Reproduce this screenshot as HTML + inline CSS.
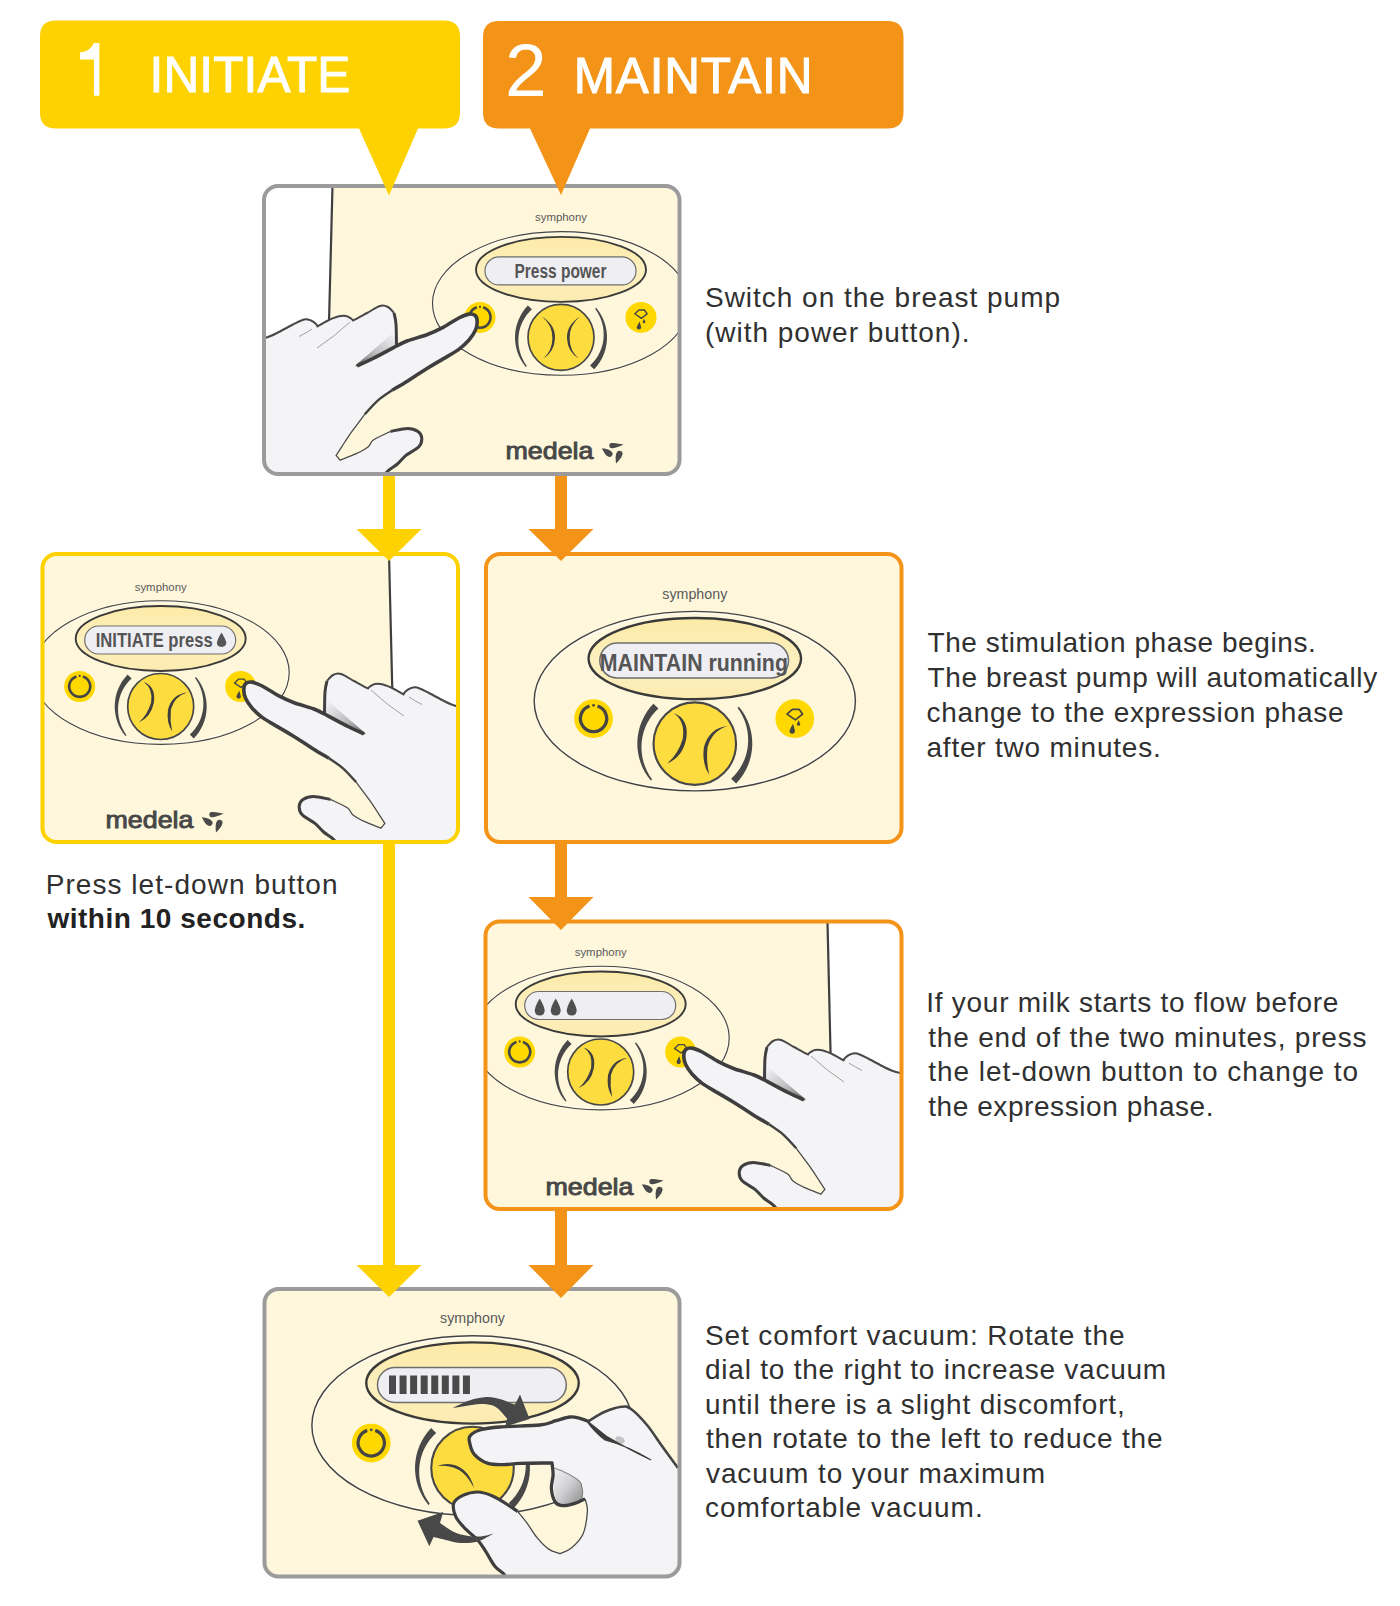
<!DOCTYPE html><html><head><meta charset="utf-8"><style>html,body{margin:0;padding:0;background:#fff;}svg{display:block;font-family:"Liberation Sans",sans-serif;}</style></head><body>
<svg width="1400" height="1606" viewBox="0 0 1400 1606">
<defs>
<linearGradient id="dispg" x1="0" y1="0" x2="0" y2="1"><stop offset="0" stop-color="#FCEAA6"/><stop offset="0.55" stop-color="#FDF0C0"/><stop offset="1" stop-color="#FCEBB0"/></linearGradient>
<linearGradient id="shadeA" x1="0" y1="1" x2="0.8" y2="0"><stop offset="0" stop-color="#5e5e5e"/><stop offset="0.45" stop-color="#bdbdc0"/><stop offset="1" stop-color="#F4F4F6"/></linearGradient>
<linearGradient id="shadeB" x1="1" y1="1" x2="0" y2="0"><stop offset="0" stop-color="#8a8a8a"/><stop offset="0.5" stop-color="#d0d0d3"/><stop offset="1" stop-color="#F4F4F6"/></linearGradient>
<clipPath id="cp0"><rect x="265" y="187" width="413.5" height="286" rx="13"/></clipPath>
<clipPath id="cp1"><rect x="43.5" y="555" width="413.5" height="286" rx="13"/></clipPath>
<clipPath id="cp2"><rect x="487" y="555" width="413.5" height="286" rx="13"/></clipPath>
<clipPath id="cp3"><rect x="486.5" y="922.5" width="414" height="285.5" rx="13"/></clipPath>
<clipPath id="cp4"><rect x="265.5" y="1290" width="413" height="285.5" rx="13"/></clipPath>
</defs>
<rect x="264" y="186" width="415.5" height="288" rx="14" ry="14" fill="#FEF7DC"/>
<g clip-path="url(#cp0)">
<path d="M260,180 L332.5,180 L327,400 L260,400Z" fill="#fff"/>
<path d="M332.5,186 L327,400" stroke="#3f3f3f" stroke-width="2.2" fill="none"/>
<g transform="translate(561,337.4) scale(1.0)">
<text x="0" y="-116" font-size="11" fill="#5a5a5a" text-anchor="middle" textLength="52" lengthAdjust="spacingAndGlyphs">symphony</text>
<ellipse cx="0" cy="-34" rx="127.2" ry="70.5" fill="none" stroke="#ffffff" stroke-width="0.9" opacity="0.7"/>
<ellipse cx="0" cy="-34" rx="128.5" ry="71.8" fill="none" stroke="#444" stroke-width="1.15"/>
<ellipse cx="0" cy="-68" rx="85" ry="32.5" fill="url(#dispg)" stroke="#3a3a3a" stroke-width="1.9"/>
<rect x="-76" y="-80.5" width="151" height="28" rx="14" fill="#EFEFF3" stroke="#6e6e6e" stroke-width="1.2"/>
<text x="-46.5" y="-59.4" font-size="20" font-weight="bold" fill="#555" textLength="92" lengthAdjust="spacingAndGlyphs">Press power</text>
<circle cx="-81" cy="-20" r="15.5" fill="#FFD800"/>
<path d="M-84.2,-30.1 A10.5,10.5 0 1 0 -77.8,-30.1" fill="none" stroke="#454545" stroke-width="2.6"/>
<circle cx="-81" cy="-30.6" r="1.1" fill="#454545"/>
<circle cx="80" cy="-20" r="15.5" fill="#FFD800"/>
<path d="M78,-27.4 L83.4,-27.4 L86.2,-23.6 L80.4,-19 L73.8,-23.6 Z" fill="none" stroke="#454545" stroke-width="1.4" stroke-linejoin="round"/>
<path d="M78.6,-15.8 Q76.6,-12.6 75.8,-10.2 Q75.8,-7.8 77.9,-7.8 Q80.1,-7.8 80.1,-10.2 Q79.6,-12.6 78.6,-15.8Z" fill="#454545"/>
<path d="M83.1,-18.6 Q82,-16.6 81.7,-15.4 Q81.7,-14.2 83,-14.2 Q84.3,-14.2 84.3,-15.4 Q84,-16.6 83.1,-18.6Z" fill="#454545"/>
<path d="M-33.09,-31.95 L-35.87,-28.79 L-38.36,-25.39 L-40.52,-21.77 L-42.34,-17.97 L-43.81,-14.02 L-44.91,-9.96 L-45.63,-5.81 L-45.97,-1.61 L-45.93,2.61 L-45.49,6.80 L-44.68,10.93 L-43.49,14.98 L-41.94,18.89 L-40.04,22.65 L-37.80,26.22 L-35.24,29.57 L-34.17,28.67 L-36.43,25.27 L-38.36,21.70 L-39.95,17.99 L-41.18,14.18 L-42.05,10.29 L-42.55,6.36 L-42.69,2.42 L-42.47,-1.48 L-41.90,-5.33 L-40.98,-9.09 L-39.73,-12.72 L-38.15,-16.20 L-36.28,-19.49 L-34.13,-22.59 L-31.71,-25.45 L-29.06,-28.06Z" fill="#484848"/>
<path d="M33.09,31.95 L35.87,28.79 L38.36,25.39 L40.52,21.77 L42.34,17.97 L43.81,14.02 L44.91,9.96 L45.63,5.81 L45.97,1.61 L45.93,-2.61 L45.49,-6.80 L44.68,-10.93 L43.49,-14.98 L41.94,-18.89 L40.04,-22.65 L37.80,-26.22 L35.24,-29.57 L34.17,-28.67 L36.43,-25.27 L38.36,-21.70 L39.95,-17.99 L41.18,-14.18 L42.05,-10.29 L42.55,-6.36 L42.69,-2.42 L42.47,1.48 L41.90,5.33 L40.98,9.09 L39.73,12.72 L38.15,16.20 L36.28,19.49 L34.13,22.59 L31.71,25.45 L29.06,28.06Z" fill="#484848"/>
<circle cx="0" cy="0" r="33" fill="#FCDC3E" stroke="#474747" stroke-width="1.7"/>
<path d="M-19,-21 Q-5.2,-12 -6,1 Q-6.6,14 -17.5,21 Q-8.8,13 -8.6,1 Q-8.2,-12 -19,-21Z" fill="#3f3f3f"/>
<path d="M19,-21 Q5.2,-12 6,1 Q6.6,14 17.5,21 Q8.8,13 8.6,1 Q8.2,-12 19,-21Z" fill="#3f3f3f"/>
</g>
<text x="505.5" y="458.5" font-size="24" fill="#474747" stroke="#474747" stroke-width="0.9" textLength="88" lengthAdjust="spacingAndGlyphs">medela</text><g transform="translate(602.5,443.5) scale(1.0)" fill="#4a4a4a"><path transform="translate(9.40,2.20) rotate(-5.4)" d="M11.75,0 Q2.34,-3.25 0,-2.60 A2.6,2.6 0 0 0 0,2.60 Q2.34,3.25 11.75,0Z"/><path transform="translate(7.00,10.40) rotate(-143.6)" d="M9.44,0 Q2.70,-3.75 0,-3.00 A3,3 0 0 0 0,3.00 Q2.70,3.75 9.44,0Z"/><path transform="translate(17.00,10.30) rotate(109.7)" d="M10.41,0 Q2.70,-3.75 0,-3.00 A3,3 0 0 0 0,3.00 Q2.70,3.75 10.41,0Z"/></g>
<use href="#handA"/>
</g>
<rect x="264" y="186" width="415.5" height="288" rx="14" ry="14" fill="none" stroke="#9B9B9B" stroke-width="4"/>
<rect x="42.5" y="554" width="415.5" height="288" rx="14" ry="14" fill="#FEF7DC"/>
<g clip-path="url(#cp1)">
<path d="M389,540 L470,540 L470,760 L394,760Z" fill="#fff"/>
<path d="M389,554 L394,760" stroke="#3f3f3f" stroke-width="2.2" fill="none"/>
<g transform="translate(160.7,706.5) scale(1.0)">
<text x="0" y="-116" font-size="11" fill="#5a5a5a" text-anchor="middle" textLength="52" lengthAdjust="spacingAndGlyphs">symphony</text>
<ellipse cx="0" cy="-34" rx="127.2" ry="70.5" fill="none" stroke="#ffffff" stroke-width="0.9" opacity="0.7"/>
<ellipse cx="0" cy="-34" rx="128.5" ry="71.8" fill="none" stroke="#444" stroke-width="1.15"/>
<ellipse cx="0" cy="-68" rx="85" ry="32.5" fill="url(#dispg)" stroke="#3a3a3a" stroke-width="1.9"/>
<rect x="-76" y="-80.5" width="151" height="28" rx="14" fill="#EFEFF3" stroke="#6e6e6e" stroke-width="1.2"/>
<text x="-65" y="-59.5" font-size="20" font-weight="bold" fill="#555" textLength="117" lengthAdjust="spacingAndGlyphs">INITIATE press</text><path d="M60.8,-74 Q57,-68 56.2,-64 Q56,-60 60.8,-59.5 Q65.6,-60 65.6,-64 Q64.6,-68 60.8,-74Z" fill="#555"/>
<circle cx="-81" cy="-20" r="15.5" fill="#FFD800"/>
<path d="M-84.2,-30.1 A10.5,10.5 0 1 0 -77.8,-30.1" fill="none" stroke="#454545" stroke-width="2.6"/>
<circle cx="-81" cy="-30.6" r="1.1" fill="#454545"/>
<circle cx="80" cy="-20" r="15.5" fill="#FFD800"/>
<path d="M78,-27.4 L83.4,-27.4 L86.2,-23.6 L80.4,-19 L73.8,-23.6 Z" fill="none" stroke="#454545" stroke-width="1.4" stroke-linejoin="round"/>
<path d="M78.6,-15.8 Q76.6,-12.6 75.8,-10.2 Q75.8,-7.8 77.9,-7.8 Q80.1,-7.8 80.1,-10.2 Q79.6,-12.6 78.6,-15.8Z" fill="#454545"/>
<path d="M83.1,-18.6 Q82,-16.6 81.7,-15.4 Q81.7,-14.2 83,-14.2 Q84.3,-14.2 84.3,-15.4 Q84,-16.6 83.1,-18.6Z" fill="#454545"/>
<path d="M-33.09,-31.95 L-35.87,-28.79 L-38.36,-25.39 L-40.52,-21.77 L-42.34,-17.97 L-43.81,-14.02 L-44.91,-9.96 L-45.63,-5.81 L-45.97,-1.61 L-45.93,2.61 L-45.49,6.80 L-44.68,10.93 L-43.49,14.98 L-41.94,18.89 L-40.04,22.65 L-37.80,26.22 L-35.24,29.57 L-34.17,28.67 L-36.43,25.27 L-38.36,21.70 L-39.95,17.99 L-41.18,14.18 L-42.05,10.29 L-42.55,6.36 L-42.69,2.42 L-42.47,-1.48 L-41.90,-5.33 L-40.98,-9.09 L-39.73,-12.72 L-38.15,-16.20 L-36.28,-19.49 L-34.13,-22.59 L-31.71,-25.45 L-29.06,-28.06Z" fill="#484848"/>
<path d="M33.09,31.95 L35.87,28.79 L38.36,25.39 L40.52,21.77 L42.34,17.97 L43.81,14.02 L44.91,9.96 L45.63,5.81 L45.97,1.61 L45.93,-2.61 L45.49,-6.80 L44.68,-10.93 L43.49,-14.98 L41.94,-18.89 L40.04,-22.65 L37.80,-26.22 L35.24,-29.57 L34.17,-28.67 L36.43,-25.27 L38.36,-21.70 L39.95,-17.99 L41.18,-14.18 L42.05,-10.29 L42.55,-6.36 L42.69,-2.42 L42.47,1.48 L41.90,5.33 L40.98,9.09 L39.73,12.72 L38.15,16.20 L36.28,19.49 L34.13,22.59 L31.71,25.45 L29.06,28.06Z" fill="#484848"/>
<circle cx="0" cy="0" r="33" fill="#FCDC3E" stroke="#474747" stroke-width="1.7"/>
<path d="M-17,-24.5 Q-4.5,-20 -6.8,-4 Q-9.5,10.5 -22,16 Q-13,8 -9.6,-4 Q-7.5,-18 -17,-24.5Z" fill="#3f3f3f"/>
<path d="M26.5,-14 Q11.5,-12.5 7.3,3 Q5.5,16 11.5,25 Q9,14 10.2,3 Q14,-10.5 26.5,-14Z" fill="#3f3f3f"/>
</g>
<text x="105.5" y="827.5" font-size="24" fill="#474747" stroke="#474747" stroke-width="0.9" textLength="88" lengthAdjust="spacingAndGlyphs">medela</text><g transform="translate(202.5,812.5) scale(1.0)" fill="#4a4a4a"><path transform="translate(9.40,2.20) rotate(-5.4)" d="M11.75,0 Q2.34,-3.25 0,-2.60 A2.6,2.6 0 0 0 0,2.60 Q2.34,3.25 11.75,0Z"/><path transform="translate(7.00,10.40) rotate(-143.6)" d="M9.44,0 Q2.70,-3.75 0,-3.00 A3,3 0 0 0 0,3.00 Q2.70,3.75 9.44,0Z"/><path transform="translate(17.00,10.30) rotate(109.7)" d="M10.41,0 Q2.70,-3.75 0,-3.00 A3,3 0 0 0 0,3.00 Q2.70,3.75 10.41,0Z"/></g>
<use href="#handA" transform="matrix(-1,0,0,1,721,368)"/>
</g>
<rect x="42.5" y="554" width="415.5" height="288" rx="14" ry="14" fill="none" stroke="#FDD200" stroke-width="4"/>
<rect x="486" y="554" width="415.5" height="288" rx="14" ry="14" fill="#FEF7DC"/>
<g clip-path="url(#cp2)">
<g transform="translate(694.8,743.6) scale(1.25)">
<text x="0" y="-116" font-size="11" fill="#5a5a5a" text-anchor="middle" textLength="52" lengthAdjust="spacingAndGlyphs">symphony</text>
<ellipse cx="0" cy="-34" rx="127.2" ry="70.5" fill="none" stroke="#ffffff" stroke-width="0.9" opacity="0.7"/>
<ellipse cx="0" cy="-34" rx="128.5" ry="71.8" fill="none" stroke="#444" stroke-width="1.15"/>
<ellipse cx="0" cy="-68" rx="85" ry="32.5" fill="url(#dispg)" stroke="#3a3a3a" stroke-width="1.9"/>
<rect x="-76" y="-80.5" width="151" height="28" rx="14" fill="#EFEFF3" stroke="#6e6e6e" stroke-width="1.2"/>
<text x="-76" y="-58.2" font-size="19.5" font-weight="bold" fill="#555" textLength="150.5" lengthAdjust="spacingAndGlyphs">MAINTAIN running</text>
<circle cx="-81" cy="-20" r="15.5" fill="#FFD800"/>
<path d="M-84.2,-30.1 A10.5,10.5 0 1 0 -77.8,-30.1" fill="none" stroke="#454545" stroke-width="2.6"/>
<circle cx="-81" cy="-30.6" r="1.1" fill="#454545"/>
<circle cx="80" cy="-20" r="15.5" fill="#FFD800"/>
<path d="M78,-27.4 L83.4,-27.4 L86.2,-23.6 L80.4,-19 L73.8,-23.6 Z" fill="none" stroke="#454545" stroke-width="1.4" stroke-linejoin="round"/>
<path d="M78.6,-15.8 Q76.6,-12.6 75.8,-10.2 Q75.8,-7.8 77.9,-7.8 Q80.1,-7.8 80.1,-10.2 Q79.6,-12.6 78.6,-15.8Z" fill="#454545"/>
<path d="M83.1,-18.6 Q82,-16.6 81.7,-15.4 Q81.7,-14.2 83,-14.2 Q84.3,-14.2 84.3,-15.4 Q84,-16.6 83.1,-18.6Z" fill="#454545"/>
<path d="M-33.09,-31.95 L-35.87,-28.79 L-38.36,-25.39 L-40.52,-21.77 L-42.34,-17.97 L-43.81,-14.02 L-44.91,-9.96 L-45.63,-5.81 L-45.97,-1.61 L-45.93,2.61 L-45.49,6.80 L-44.68,10.93 L-43.49,14.98 L-41.94,18.89 L-40.04,22.65 L-37.80,26.22 L-35.24,29.57 L-34.17,28.67 L-36.43,25.27 L-38.36,21.70 L-39.95,17.99 L-41.18,14.18 L-42.05,10.29 L-42.55,6.36 L-42.69,2.42 L-42.47,-1.48 L-41.90,-5.33 L-40.98,-9.09 L-39.73,-12.72 L-38.15,-16.20 L-36.28,-19.49 L-34.13,-22.59 L-31.71,-25.45 L-29.06,-28.06Z" fill="#484848"/>
<path d="M33.09,31.95 L35.87,28.79 L38.36,25.39 L40.52,21.77 L42.34,17.97 L43.81,14.02 L44.91,9.96 L45.63,5.81 L45.97,1.61 L45.93,-2.61 L45.49,-6.80 L44.68,-10.93 L43.49,-14.98 L41.94,-18.89 L40.04,-22.65 L37.80,-26.22 L35.24,-29.57 L34.17,-28.67 L36.43,-25.27 L38.36,-21.70 L39.95,-17.99 L41.18,-14.18 L42.05,-10.29 L42.55,-6.36 L42.69,-2.42 L42.47,1.48 L41.90,5.33 L40.98,9.09 L39.73,12.72 L38.15,16.20 L36.28,19.49 L34.13,22.59 L31.71,25.45 L29.06,28.06Z" fill="#484848"/>
<circle cx="0" cy="0" r="33" fill="#FCDC3E" stroke="#474747" stroke-width="1.7"/>
<path d="M-17,-24.5 Q-4.5,-20 -6.8,-4 Q-9.5,10.5 -22,16 Q-13,8 -9.6,-4 Q-7.5,-18 -17,-24.5Z" fill="#3f3f3f"/>
<path d="M26.5,-14 Q11.5,-12.5 7.3,3 Q5.5,16 11.5,25 Q9,14 10.2,3 Q14,-10.5 26.5,-14Z" fill="#3f3f3f"/>
</g>
</g>
<rect x="486" y="554" width="415.5" height="288" rx="14" ry="14" fill="none" stroke="#F39418" stroke-width="4"/>
<rect x="485.5" y="921.5" width="416" height="287.5" rx="14" ry="14" fill="#FEF7DC"/>
<g clip-path="url(#cp3)">
<path d="M827.5,900 L920,900 L920,1150 L832.8,1150Z" fill="#fff"/>
<path d="M827.5,922 L832.8,1150" stroke="#3f3f3f" stroke-width="2.2" fill="none"/>
<g transform="translate(600.7,1072) scale(1.0)">
<text x="0" y="-116" font-size="11" fill="#5a5a5a" text-anchor="middle" textLength="52" lengthAdjust="spacingAndGlyphs">symphony</text>
<ellipse cx="0" cy="-34" rx="127.2" ry="70.5" fill="none" stroke="#ffffff" stroke-width="0.9" opacity="0.7"/>
<ellipse cx="0" cy="-34" rx="128.5" ry="71.8" fill="none" stroke="#444" stroke-width="1.15"/>
<ellipse cx="0" cy="-68" rx="85" ry="32.5" fill="url(#dispg)" stroke="#3a3a3a" stroke-width="1.9"/>
<rect x="-76" y="-80.5" width="151" height="28" rx="14" fill="#EFEFF3" stroke="#6e6e6e" stroke-width="1.2"/>
<path d="M-61,-73.5 Q-65,-67 -66,-62 Q-66,-56.5 -61,-56.5 Q-56,-56.5 -56,-62 Q-57,-67 -61,-73.5Z" fill="#505050"/><path d="M-45,-73.5 Q-49,-67 -50,-62 Q-50,-56.5 -45,-56.5 Q-40,-56.5 -40,-62 Q-41,-67 -45,-73.5Z" fill="#505050"/><path d="M-29,-73.5 Q-33,-67 -34,-62 Q-34,-56.5 -29,-56.5 Q-24,-56.5 -24,-62 Q-25,-67 -29,-73.5Z" fill="#505050"/>
<circle cx="-81" cy="-20" r="15.5" fill="#FFD800"/>
<path d="M-84.2,-30.1 A10.5,10.5 0 1 0 -77.8,-30.1" fill="none" stroke="#454545" stroke-width="2.6"/>
<circle cx="-81" cy="-30.6" r="1.1" fill="#454545"/>
<circle cx="80" cy="-20" r="15.5" fill="#FFD800"/>
<path d="M78,-27.4 L83.4,-27.4 L86.2,-23.6 L80.4,-19 L73.8,-23.6 Z" fill="none" stroke="#454545" stroke-width="1.4" stroke-linejoin="round"/>
<path d="M78.6,-15.8 Q76.6,-12.6 75.8,-10.2 Q75.8,-7.8 77.9,-7.8 Q80.1,-7.8 80.1,-10.2 Q79.6,-12.6 78.6,-15.8Z" fill="#454545"/>
<path d="M83.1,-18.6 Q82,-16.6 81.7,-15.4 Q81.7,-14.2 83,-14.2 Q84.3,-14.2 84.3,-15.4 Q84,-16.6 83.1,-18.6Z" fill="#454545"/>
<path d="M-33.09,-31.95 L-35.87,-28.79 L-38.36,-25.39 L-40.52,-21.77 L-42.34,-17.97 L-43.81,-14.02 L-44.91,-9.96 L-45.63,-5.81 L-45.97,-1.61 L-45.93,2.61 L-45.49,6.80 L-44.68,10.93 L-43.49,14.98 L-41.94,18.89 L-40.04,22.65 L-37.80,26.22 L-35.24,29.57 L-34.17,28.67 L-36.43,25.27 L-38.36,21.70 L-39.95,17.99 L-41.18,14.18 L-42.05,10.29 L-42.55,6.36 L-42.69,2.42 L-42.47,-1.48 L-41.90,-5.33 L-40.98,-9.09 L-39.73,-12.72 L-38.15,-16.20 L-36.28,-19.49 L-34.13,-22.59 L-31.71,-25.45 L-29.06,-28.06Z" fill="#484848"/>
<path d="M33.09,31.95 L35.87,28.79 L38.36,25.39 L40.52,21.77 L42.34,17.97 L43.81,14.02 L44.91,9.96 L45.63,5.81 L45.97,1.61 L45.93,-2.61 L45.49,-6.80 L44.68,-10.93 L43.49,-14.98 L41.94,-18.89 L40.04,-22.65 L37.80,-26.22 L35.24,-29.57 L34.17,-28.67 L36.43,-25.27 L38.36,-21.70 L39.95,-17.99 L41.18,-14.18 L42.05,-10.29 L42.55,-6.36 L42.69,-2.42 L42.47,1.48 L41.90,5.33 L40.98,9.09 L39.73,12.72 L38.15,16.20 L36.28,19.49 L34.13,22.59 L31.71,25.45 L29.06,28.06Z" fill="#484848"/>
<circle cx="0" cy="0" r="33" fill="#FCDC3E" stroke="#474747" stroke-width="1.7"/>
<path d="M-17,-24.5 Q-4.5,-20 -6.8,-4 Q-9.5,10.5 -22,16 Q-13,8 -9.6,-4 Q-7.5,-18 -17,-24.5Z" fill="#3f3f3f"/>
<path d="M26.5,-14 Q11.5,-12.5 7.3,3 Q5.5,16 11.5,25 Q9,14 10.2,3 Q14,-10.5 26.5,-14Z" fill="#3f3f3f"/>
</g>
<text x="545.5" y="1194.5" font-size="24" fill="#474747" stroke="#474747" stroke-width="0.9" textLength="88" lengthAdjust="spacingAndGlyphs">medela</text><g transform="translate(642.5,1179.5) scale(1.0)" fill="#4a4a4a"><path transform="translate(9.40,2.20) rotate(-5.4)" d="M11.75,0 Q2.34,-3.25 0,-2.60 A2.6,2.6 0 0 0 0,2.60 Q2.34,3.25 11.75,0Z"/><path transform="translate(7.00,10.40) rotate(-143.6)" d="M9.44,0 Q2.70,-3.75 0,-3.00 A3,3 0 0 0 0,3.00 Q2.70,3.75 9.44,0Z"/><path transform="translate(17.00,10.30) rotate(109.7)" d="M10.41,0 Q2.70,-3.75 0,-3.00 A3,3 0 0 0 0,3.00 Q2.70,3.75 10.41,0Z"/></g>
<use href="#handA" transform="matrix(-1,0,0,1,1161,734)"/>
</g>
<rect x="485.5" y="921.5" width="416" height="287.5" rx="14" ry="14" fill="none" stroke="#F39418" stroke-width="4"/>
<rect x="264.5" y="1289" width="415" height="287.5" rx="14" ry="14" fill="#FEF7DC"/>
<g clip-path="url(#cp4)">
<g transform="translate(472.5,1468) scale(1.25)">
<text x="0" y="-116" font-size="11" fill="#5a5a5a" text-anchor="middle" textLength="52" lengthAdjust="spacingAndGlyphs">symphony</text>
<ellipse cx="0" cy="-34" rx="127.2" ry="70.5" fill="none" stroke="#ffffff" stroke-width="0.9" opacity="0.7"/>
<ellipse cx="0" cy="-34" rx="128.5" ry="71.8" fill="none" stroke="#444" stroke-width="1.15"/>
<ellipse cx="0" cy="-68" rx="85" ry="32.5" fill="url(#dispg)" stroke="#3a3a3a" stroke-width="1.9"/>
<rect x="-76" y="-80.5" width="151" height="28" rx="14" fill="#EFEFF3" stroke="#6e6e6e" stroke-width="1.2"/>
<rect x="-66.80" y="-74" width="5.6" height="14.8" fill="#4a4a4a"/><rect x="-58.35" y="-74" width="5.6" height="14.8" fill="#4a4a4a"/><rect x="-49.90" y="-74" width="5.6" height="14.8" fill="#4a4a4a"/><rect x="-41.45" y="-74" width="5.6" height="14.8" fill="#4a4a4a"/><rect x="-33.00" y="-74" width="5.6" height="14.8" fill="#4a4a4a"/><rect x="-24.55" y="-74" width="5.6" height="14.8" fill="#4a4a4a"/><rect x="-16.10" y="-74" width="5.6" height="14.8" fill="#4a4a4a"/><rect x="-7.65" y="-74" width="5.6" height="14.8" fill="#4a4a4a"/>
<circle cx="-81" cy="-20" r="15.5" fill="#FFD800"/>
<path d="M-84.2,-30.1 A10.5,10.5 0 1 0 -77.8,-30.1" fill="none" stroke="#454545" stroke-width="2.6"/>
<circle cx="-81" cy="-30.6" r="1.1" fill="#454545"/>
<circle cx="80" cy="-20" r="15.5" fill="#FFD800"/>
<path d="M78,-27.4 L83.4,-27.4 L86.2,-23.6 L80.4,-19 L73.8,-23.6 Z" fill="none" stroke="#454545" stroke-width="1.4" stroke-linejoin="round"/>
<path d="M78.6,-15.8 Q76.6,-12.6 75.8,-10.2 Q75.8,-7.8 77.9,-7.8 Q80.1,-7.8 80.1,-10.2 Q79.6,-12.6 78.6,-15.8Z" fill="#454545"/>
<path d="M83.1,-18.6 Q82,-16.6 81.7,-15.4 Q81.7,-14.2 83,-14.2 Q84.3,-14.2 84.3,-15.4 Q84,-16.6 83.1,-18.6Z" fill="#454545"/>
<path d="M-33.09,-31.95 L-35.87,-28.79 L-38.36,-25.39 L-40.52,-21.77 L-42.34,-17.97 L-43.81,-14.02 L-44.91,-9.96 L-45.63,-5.81 L-45.97,-1.61 L-45.93,2.61 L-45.49,6.80 L-44.68,10.93 L-43.49,14.98 L-41.94,18.89 L-40.04,22.65 L-37.80,26.22 L-35.24,29.57 L-34.17,28.67 L-36.43,25.27 L-38.36,21.70 L-39.95,17.99 L-41.18,14.18 L-42.05,10.29 L-42.55,6.36 L-42.69,2.42 L-42.47,-1.48 L-41.90,-5.33 L-40.98,-9.09 L-39.73,-12.72 L-38.15,-16.20 L-36.28,-19.49 L-34.13,-22.59 L-31.71,-25.45 L-29.06,-28.06Z" fill="#484848"/>
<path d="M33.09,31.95 L35.87,28.79 L38.36,25.39 L40.52,21.77 L42.34,17.97 L43.81,14.02 L44.91,9.96 L45.63,5.81 L45.97,1.61 L45.93,-2.61 L45.49,-6.80 L44.68,-10.93 L43.49,-14.98 L41.94,-18.89 L40.04,-22.65 L37.80,-26.22 L35.24,-29.57 L34.17,-28.67 L36.43,-25.27 L38.36,-21.70 L39.95,-17.99 L41.18,-14.18 L42.05,-10.29 L42.55,-6.36 L42.69,-2.42 L42.47,1.48 L41.90,5.33 L40.98,9.09 L39.73,12.72 L38.15,16.20 L36.28,19.49 L34.13,22.59 L31.71,25.45 L29.06,28.06Z" fill="#484848"/>
<circle cx="0" cy="0" r="33" fill="#FCDC3E" stroke="#474747" stroke-width="1.7"/>
<path d="M-28.4,-1.6 Q-16,-6 -7,1.6 Q-1,7 1.2,16 Q-3,8 -8,3.6 Q-16,-3 -28.4,-1.6Z" fill="#3f3f3f"/>
</g>
<use href="#handB"/>
</g>
<rect x="264.5" y="1289" width="415" height="287.5" rx="14" ry="14" fill="none" stroke="#9B9B9B" stroke-width="4"/>
<path d="M56,20.5 H444 Q460,20.5 460,36.5 V112.5 Q460,128.5 444,128.5 H418 L389,195.5 L359,128.5 H56 Q40,128.5 40,112.5 V36.5 Q40,20.5 56,20.5Z" fill="#FDD200"/>
<path d="M499,21 H887.5 Q903.5,21 903.5,37 V112.5 Q903.5,128.5 887.5,128.5 H590 L561,195 L530,128.5 H499 Q483,128.5 483,112.5 V37 Q483,21 499,21Z" fill="#F39418"/>
<path d="M80,52.6 Q90,51.5 94,43 L99.4,43 L99.4,95.7 L93.9,95.7 L93.9,59.6 L80,59.6 Z" fill="#fff"/>
<text x="505" y="95.6" font-size="75" fill="#fff">2</text>
<text x="149.5" y="92.1" font-size="49.5" fill="#fff" letter-spacing="0.14" stroke="#fff" stroke-width="1.0">INITIATE</text>
<text x="573.8" y="92.7" font-size="49.5" fill="#fff" letter-spacing="0.83" stroke="#fff" stroke-width="1.0">MAINTAIN</text>
<rect x="383" y="476" width="12" height="54" fill="#FDD200"/><path d="M356.5,529 L421.5,529 L389,561 Z" fill="#FDD200"/>
<rect x="555" y="476" width="12" height="54" fill="#F39418"/><path d="M528.5,529 L593.5,529 L561,561 Z" fill="#F39418"/>
<rect x="383" y="844" width="12" height="422" fill="#FDD200"/><path d="M356.5,1265 L421.5,1265 L389,1297 Z" fill="#FDD200"/>
<rect x="555" y="844" width="12" height="54" fill="#F39418"/><path d="M528.5,897 L593.5,897 L561,930 Z" fill="#F39418"/>
<rect x="555" y="1211" width="12" height="55" fill="#F39418"/><path d="M528.5,1265 L593.5,1265 L561,1298 Z" fill="#F39418"/>
<text x="705.0" y="307" font-size="28" letter-spacing="0.98" fill="#303030">Switch on the breast pump</text>
<text x="705.0" y="342" font-size="28" letter-spacing="0.98" fill="#303030">(with power button).</text>
<text x="927.5" y="652.3" font-size="28" letter-spacing="0.58" fill="#303030">The stimulation phase begins.</text>
<text x="927.5" y="687.2" font-size="28" letter-spacing="0.61" fill="#303030">The breast pump will automatically</text>
<text x="926.5" y="722" font-size="28" letter-spacing="0.69" fill="#303030">change to the expression phase</text>
<text x="926.5" y="756.6" font-size="28" letter-spacing="0.78" fill="#303030">after two minutes.</text>
<text x="926.2" y="1012.2" font-size="28" letter-spacing="0.75" fill="#303030">If your milk starts to flow before</text>
<text x="928.2" y="1046.5" font-size="28" letter-spacing="0.81" fill="#303030">the end of the two minutes, press</text>
<text x="928.2" y="1080.8" font-size="28" letter-spacing="0.96" fill="#303030">the let-down button to change to</text>
<text x="928.2" y="1115.8" font-size="28" letter-spacing="0.57" fill="#303030">the expression phase.</text>
<text x="705.0" y="1345" font-size="28" letter-spacing="0.89" fill="#303030">Set comfort vacuum: Rotate the</text>
<text x="705.0" y="1378.8" font-size="28" letter-spacing="0.77" fill="#303030">dial to the right to increase vacuum</text>
<text x="705.0" y="1413.6" font-size="28" letter-spacing="0.81" fill="#303030">until there is a slight discomfort,</text>
<text x="706.0" y="1448.4" font-size="28" letter-spacing="0.79" fill="#303030">then rotate to the left to reduce the</text>
<text x="706.0" y="1482.6" font-size="28" letter-spacing="0.88" fill="#303030">vacuum to your maximum</text>
<text x="705.0" y="1517" font-size="28" letter-spacing="0.99" fill="#303030">comfortable vacuum.</text>
<text x="45.7" y="893.6" font-size="28" letter-spacing="1.05" fill="#303030">Press let-down button</text>
<text x="47.4" y="928.4" font-size="28" letter-spacing="0.53" font-weight="bold" fill="#222222">within 10 seconds.</text>
<defs>
<g id="handA">
<path d="M250.0,341.0 C252.5,340.5 260.5,339.3 265.0,338.0 C269.5,336.7 272.5,335.2 277.0,333.0 C281.5,330.8 287.5,327.2 292.0,325.0 C296.5,322.8 300.8,320.2 304.0,319.5 C307.2,318.8 309.0,319.8 311.0,320.5 C313.0,321.2 314.9,323.0 316.0,324.0 C317.1,325.0 317.2,326.1 317.5,326.5 C319.1,325.6 323.6,322.7 327.0,321.0 C330.4,319.3 334.8,317.3 338.0,316.5 C341.2,315.7 343.8,315.7 346.0,316.0 C348.2,316.3 349.8,317.8 351.0,318.5 C352.2,319.2 352.7,320.2 353.0,320.5 C355.3,319.2 362.5,315.4 367.0,313.0 C371.5,310.6 376.5,307.0 380.0,306.0 C383.5,305.0 385.7,305.8 388.0,307.0 C390.3,308.2 392.7,310.2 394.0,313.0 C395.3,315.8 395.6,318.5 396.0,324.0 C396.4,329.5 396.4,342.3 396.5,346.0 C398.4,345.1 402.6,342.7 407.7,340.8 C412.8,338.9 421.5,336.7 427.4,334.5 C433.3,332.3 437.9,330.1 443.1,327.4 C448.3,324.6 454.5,320.2 458.8,318.0 C463.1,315.8 466.2,314.5 469.0,314.1 C471.8,313.7 473.9,314.3 475.3,315.6 C476.7,316.9 477.2,319.4 477.2,321.9 C477.2,324.4 476.7,327.6 475.3,330.6 C473.9,333.6 471.8,336.9 469.0,340.0 C466.2,343.1 463.1,346.2 458.8,349.4 C454.5,352.5 448.3,355.8 443.1,358.9 C437.9,362.0 433.3,364.6 427.4,368.3 C421.5,372.0 413.6,377.2 407.7,380.9 C401.8,384.6 394.6,388.7 392.0,390.3 C389.6,392.0 382.2,396.6 377.7,400.6 C373.2,404.6 369.1,409.2 364.8,414.3 C360.5,419.4 355.9,426.0 352.0,431.4 C348.1,436.8 344.3,442.8 341.7,446.8 C339.1,450.8 337.0,454.0 336.1,455.4 C336.8,456.2 339.4,459.3 340.0,460.1 C342.7,459.0 351.6,455.9 356.3,453.7 C361.0,451.5 365.5,449.1 368.3,446.8 C371.1,444.5 369.7,442.6 373.4,440.0 C377.1,437.4 387.7,432.8 390.6,431.4 C393.5,430.9 403.1,428.4 407.7,428.4 C412.3,428.4 415.6,429.8 418.0,431.4 C420.4,433.0 421.7,435.7 421.8,438.3 C421.9,440.9 421.4,444.0 418.8,446.8 C416.2,449.6 409.6,452.5 406.0,455.4 C402.4,458.3 400.4,461.4 397.4,464.0 C394.4,466.6 390.9,468.1 388.0,470.8 C385.1,473.5 381.3,478.5 380.0,480.0 C380.0,481.7 401.7,488.3 380.0,490.0 C358.3,491.7 271.7,490.0 250.0,490.0 Z" fill="#F4F4F6"/>
<path d="M357.0,366.0 C359.5,365.2 365.4,362.3 372.0,359.0 C378.6,355.7 392.4,350.7 396.5,346.0 C400.6,341.3 398.1,332.2 396.3,331.0 C394.6,329.8 390.4,335.3 386.0,339.0 C381.6,342.7 374.8,348.8 370.0,353.0 C365.2,357.2 359.2,361.8 357.0,364.0 C354.8,366.2 354.5,366.8 357.0,366.0 Z" fill="url(#shadeA)"/>
<path d="M250.0,341.0 C252.5,340.5 260.5,339.3 265.0,338.0 C269.5,336.7 272.5,335.2 277.0,333.0 C281.5,330.8 287.5,327.2 292.0,325.0 C296.5,322.8 300.8,320.2 304.0,319.5 C307.2,318.8 309.0,319.8 311.0,320.5 C313.0,321.2 314.9,323.0 316.0,324.0 C317.1,325.0 317.2,326.1 317.5,326.5 C319.1,325.6 323.6,322.7 327.0,321.0 C330.4,319.3 334.8,317.3 338.0,316.5 C341.2,315.7 343.8,315.7 346.0,316.0 C348.2,316.3 349.8,317.8 351.0,318.5 C352.2,319.2 352.7,320.2 353.0,320.5 C355.3,319.2 362.5,315.4 367.0,313.0 C371.5,310.6 376.5,307.0 380.0,306.0 C383.5,305.0 385.7,305.8 388.0,307.0 C390.3,308.2 393.0,312.0 394.0,313.0" fill="none" stroke="#484848" stroke-width="2"/>
<path d="M394.0,313.0 C394.3,314.8 395.6,318.5 396.0,324.0 C396.4,329.5 396.4,342.3 396.5,346.0" fill="none" stroke="#404040" stroke-width="3"/>
<path d="M357.0,366.0 C359.5,364.8 365.4,362.3 372.0,359.0 C378.6,355.7 392.4,348.2 396.5,346.0 C398.4,345.1 402.6,342.7 407.7,340.8 C412.8,338.9 421.5,336.7 427.4,334.5 C433.3,332.3 437.9,330.1 443.1,327.4 C448.3,324.6 454.5,320.2 458.8,318.0 C463.1,315.8 466.2,314.5 469.0,314.1 C471.8,313.7 473.9,314.3 475.3,315.6 C476.7,316.9 477.2,319.4 477.2,321.9 C477.2,324.4 476.7,327.6 475.3,330.6 C473.9,333.6 471.8,336.9 469.0,340.0 C466.2,343.1 463.1,346.2 458.8,349.4 C454.5,352.5 448.3,355.8 443.1,358.9 C437.9,362.0 433.3,364.6 427.4,368.3 C421.5,372.0 413.6,377.2 407.7,380.9 C401.8,384.6 394.6,388.7 392.0,390.3" fill="none" stroke="#3e3e3e" stroke-width="3.6" stroke-linejoin="round"/>
<path d="M392.0,390.3 C389.6,392.0 382.2,396.6 377.7,400.6 C373.2,404.6 366.9,412.0 364.8,414.3" fill="none" stroke="#424242" stroke-width="2.4"/>
<path d="M364.8,414.3 C362.7,417.1 355.9,426.0 352.0,431.4 C348.1,436.8 344.3,442.8 341.7,446.8 C339.1,450.8 337.0,454.0 336.1,455.4 C336.8,456.2 339.4,459.3 340.0,460.1 C342.7,459.0 351.6,455.9 356.3,453.7 C361.0,451.5 365.5,449.1 368.3,446.8 C371.1,444.5 369.7,442.6 373.4,440.0 C377.1,437.4 387.7,432.8 390.6,431.4" fill="none" stroke="#4a4a4a" stroke-width="1.3"/>
<path d="M390.6,431.4 C393.5,430.9 403.1,428.4 407.7,428.4 C412.3,428.4 415.6,429.8 418.0,431.4 C420.4,433.0 421.7,435.7 421.8,438.3 C421.9,440.9 421.4,444.0 418.8,446.8 C416.2,449.6 409.6,452.5 406.0,455.4 C402.4,458.3 400.4,461.4 397.4,464.0 C394.4,466.6 390.9,468.1 388.0,470.8 C385.1,473.5 381.3,478.5 380.0,480.0" fill="none" stroke="#404040" stroke-width="3"/>
<path d="M299,336.5 Q306,333 312,329 M317,348 Q334,337 350,322" fill="none" stroke="#a0a0a0" stroke-width="1"/>
</g>
<g id="handB">
<path d="M690.0,1480.0 C688.0,1478.0 682.7,1473.7 678.0,1468.0 C673.3,1462.3 667.2,1453.2 662.0,1446.0 C656.8,1438.8 652.2,1431.2 647.0,1425.0 C641.8,1418.8 635.2,1412.0 631.0,1409.0 C626.8,1406.0 626.0,1406.3 621.5,1406.8 C617.0,1407.3 609.8,1409.6 604.3,1412.0 C598.8,1414.4 590.9,1419.8 588.2,1421.3 C587.0,1420.8 583.7,1419.3 580.7,1418.6 C577.7,1417.9 574.1,1416.7 570.0,1417.0 C565.9,1417.3 561.0,1419.4 556.0,1420.7 C551.0,1422.0 549.3,1424.0 540.0,1425.0 C530.7,1426.0 510.0,1426.2 500.0,1427.0 C490.0,1427.8 485.0,1428.5 480.0,1430.0 C475.0,1431.5 471.7,1433.8 470.0,1436.0 C468.3,1438.2 469.0,1439.9 469.7,1442.9 C470.4,1446.0 471.2,1450.9 474.3,1454.3 C477.4,1457.7 483.1,1461.7 488.0,1463.4 C492.9,1465.1 498.7,1464.6 504.0,1464.6 C509.3,1464.6 512.0,1463.7 520.0,1463.4 C528.0,1463.1 546.7,1463.0 552.0,1462.9 C552.2,1464.9 553.2,1470.6 553.1,1474.9 C553.0,1479.2 551.0,1484.0 551.4,1488.6 C551.8,1493.2 553.4,1499.4 555.4,1502.3 C557.4,1505.2 560.1,1505.5 563.4,1505.7 C566.6,1505.9 571.3,1504.5 574.9,1503.4 C578.5,1502.3 583.4,1499.7 585.1,1498.9 C585.5,1501.0 587.8,1505.5 587.4,1511.4 C587.0,1517.3 585.6,1528.2 582.9,1534.3 C580.2,1540.4 575.2,1544.8 571.4,1548.0 C567.6,1551.2 561.9,1552.8 560.0,1553.7 C558.1,1552.9 552.4,1551.8 548.6,1549.1 C544.8,1546.4 540.7,1542.1 537.1,1537.7 C533.5,1533.3 530.1,1527.3 526.9,1522.9 C523.7,1518.5 521.5,1514.8 517.7,1511.4 C513.9,1508.0 508.4,1505.0 504.0,1502.3 C499.6,1499.6 495.8,1497.1 491.4,1495.4 C487.0,1493.7 482.4,1492.0 477.7,1492.0 C472.9,1492.0 466.9,1493.5 462.9,1495.4 C458.9,1497.3 454.8,1499.8 453.7,1503.4 C452.6,1507.0 453.9,1512.7 456.0,1517.1 C458.1,1521.5 462.7,1525.9 466.3,1529.7 C469.9,1533.5 474.5,1536.4 477.7,1540.0 C480.9,1543.6 482.8,1547.0 485.7,1551.4 C488.6,1555.8 491.8,1562.5 494.9,1566.3 C497.9,1570.1 501.5,1571.2 504.0,1574.3 C506.5,1577.4 509.0,1583.2 510.0,1585.0 C540.0,1585.0 660.0,1585.0 690.0,1585.0 Z" fill="#F4F4F6"/>
<path d="M554.0,1468.0 C556.0,1463.5 563.6,1470.7 568.0,1473.0 C572.4,1475.3 578.3,1477.6 580.6,1481.7 C582.9,1485.8 583.0,1494.1 582.0,1497.7 C581.0,1501.3 578.1,1502.2 574.9,1503.4 C571.7,1504.6 566.1,1505.6 563.0,1505.0 C559.9,1504.4 557.5,1506.2 556.0,1500.0 C554.5,1493.8 552.0,1472.5 554.0,1468.0 Z" fill="url(#shadeB)"/>
<path d="M678.0,1468.0 C675.3,1464.3 667.2,1453.2 662.0,1446.0 C656.8,1438.8 652.2,1431.2 647.0,1425.0 C641.8,1418.8 635.2,1412.0 631.0,1409.0 C626.8,1406.0 626.0,1406.3 621.5,1406.8 C617.0,1407.3 609.8,1409.6 604.3,1412.0 C598.8,1414.4 590.9,1419.8 588.2,1421.3" fill="none" stroke="#444" stroke-width="2.6"/>
<path d="M588.2,1421.3 C587.0,1420.8 583.7,1419.3 580.7,1418.6 C577.7,1417.9 574.1,1416.7 570.0,1417.0 C565.9,1417.3 561.0,1419.4 556.0,1420.7 C551.0,1422.0 549.3,1424.0 540.0,1425.0 C530.7,1426.0 510.0,1426.2 500.0,1427.0 C490.0,1427.8 485.0,1428.5 480.0,1430.0 C475.0,1431.5 471.7,1433.8 470.0,1436.0 C468.3,1438.2 469.0,1439.9 469.7,1442.9 C470.4,1446.0 471.2,1450.9 474.3,1454.3 C477.4,1457.7 483.1,1461.7 488.0,1463.4 C492.9,1465.1 498.7,1464.6 504.0,1464.6 C509.3,1464.6 512.0,1463.7 520.0,1463.4 C528.0,1463.1 546.7,1463.0 552.0,1462.9 C552.2,1464.9 553.2,1470.6 553.1,1474.9 C553.0,1479.2 551.0,1484.0 551.4,1488.6 C551.8,1493.2 553.4,1499.4 555.4,1502.3 C557.4,1505.2 560.1,1505.5 563.4,1505.7 C566.6,1505.9 571.3,1504.5 574.9,1503.4 C578.5,1502.3 583.4,1499.7 585.1,1498.9" fill="none" stroke="#3e3e3e" stroke-width="3.3" stroke-linejoin="round"/>
<path d="M554,1468 Q572,1474 581,1483 Q584,1492 582,1499" fill="none" stroke="#666" stroke-width="0.8"/>
<path d="M585.1,1498.9 C585.5,1501.0 587.8,1505.5 587.4,1511.4 C587.0,1517.3 585.6,1528.2 582.9,1534.3 C580.2,1540.4 575.2,1544.8 571.4,1548.0 C567.6,1551.2 561.9,1552.8 560.0,1553.7 C558.1,1552.9 552.4,1551.8 548.6,1549.1 C544.8,1546.4 540.7,1542.1 537.1,1537.7 C533.5,1533.3 530.1,1527.3 526.9,1522.9 C523.7,1518.5 519.2,1513.3 517.7,1511.4" fill="none" stroke="#4a4a4a" stroke-width="1.3"/>
<path d="M517.7,1511.4 C515.4,1509.9 508.4,1505.0 504.0,1502.3 C499.6,1499.6 495.8,1497.1 491.4,1495.4 C487.0,1493.7 482.4,1492.0 477.7,1492.0 C472.9,1492.0 466.9,1493.5 462.9,1495.4 C458.9,1497.3 454.8,1499.8 453.7,1503.4 C452.6,1507.0 453.9,1512.7 456.0,1517.1 C458.1,1521.5 462.7,1525.9 466.3,1529.7 C469.9,1533.5 474.5,1536.4 477.7,1540.0 C480.9,1543.6 482.8,1547.0 485.7,1551.4 C488.6,1555.8 491.8,1562.5 494.9,1566.3 C497.9,1570.1 501.5,1571.2 504.0,1574.3 C506.5,1577.4 509.0,1583.2 510.0,1585.0" fill="none" stroke="#3e3e3e" stroke-width="3.2"/>
<ellipse cx="620" cy="1440" rx="5" ry="3.5" fill="#c4c4c7" transform="rotate(25 620 1440)"/>
<path d="M586,1420 Q596,1428 606,1436 Q626,1448 651,1460 Q628,1446 605,1440 Q594,1432 586,1420Z" fill="#3e3e3e" stroke="#3e3e3e" stroke-width="1.2"/>
<path d="M452.1,1408.2 C454.9,1407.0 462.9,1402.6 468.6,1400.7 C474.3,1398.8 481.0,1397.3 486.4,1397.1 C491.8,1396.9 496.5,1398.2 500.7,1399.3 C504.9,1400.4 509.0,1402.7 511.4,1403.6 C513.8,1404.5 514.4,1404.3 515.0,1404.5 L520,1394.5 L529.6,1419 L505.2,1426.5 L507.1,1418.6 C505.4,1416.8 500.6,1410.3 497.1,1407.9 C493.7,1405.5 490.6,1404.8 486.4,1404.3 C482.2,1403.8 477.8,1404.3 472.1,1405.0 C466.4,1405.7 455.4,1407.7 452.1,1408.2 Z" fill="#484848"/>
<path d="M493.6,1533.6 C491.6,1534.1 485.8,1536.1 481.4,1536.4 C477.0,1536.8 471.9,1536.5 467.1,1535.7 C462.4,1534.9 457.4,1533.5 452.9,1531.4 C448.4,1529.3 442.1,1524.3 440.0,1522.9 L443.2,1512 L417.5,1520.7 L429.3,1546.2 L433.6,1537.1 C435.6,1537.6 441.3,1539.0 445.7,1540.0 C450.1,1541.0 454.6,1542.7 460.0,1542.9 C465.4,1543.1 472.3,1543.0 477.9,1541.4 C483.5,1539.9 491.0,1534.9 493.6,1533.6 Z" fill="#484848"/>
</g>
</defs>
</svg></body></html>
